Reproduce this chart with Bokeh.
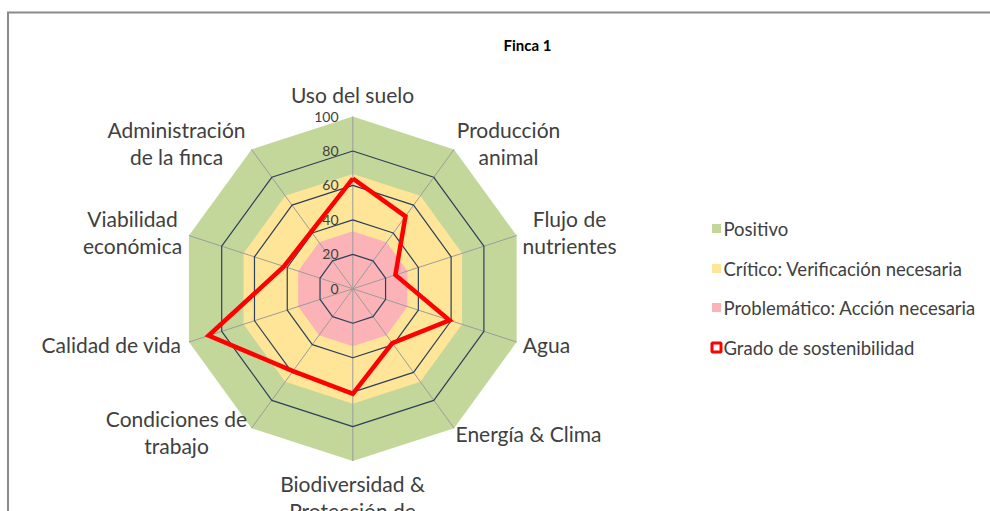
import numpy as np
from bokeh.plotting import figure
from bokeh.models import Range1d
from bokeh.core.properties import value
from bokeh.embed import file_html
from bokeh.resources import INLINE

# ---------------- data ----------------
categories = ["Uso del suelo", "Producción\nanimal", "Flujo de\nnutrientes", "Agua",
              "Energía & Clima", "Biodiversidad &\nProtección de", "Condiciones de\ntrabajo",
              "Calidad de vida", "Viabilidad\neconómica", "Administración\nde la finca"]
grado = [64, 52, 26, 59, 39, 61, 59, 88, 42, 41]
band_names = ["Positivo", "Crítico: Verificación necesaria", "Problemático: Acción necesaria"]
band_levels = [100, 66.67, 33.33]
band_colors = ["#c4d79b", "#ffe597", "#fcb3b8"]
ticks = [0, 20, 40, 60, 80, 100]
series_name = "Grado de sostenibilidad"
title = "Finca 1"

# ---------------- layout ----------------
W, H = 990, 511
S = 1.723                # px per unit
CX, CY = 352.3, 288.3    # px of radar centre
OX, OY = 0, 0


def dx(px):
    return (px - CX) / S


def dy(py):
    return (CY - py) / S


p = figure(width=W, height=H, output_backend="svg", toolbar_location=None,
           x_range=Range1d(dx(OX), dx(OX + W)), y_range=Range1d(dy(OY + H), dy(OY)),
           min_border=0)
p.axis.visible = False
p.grid.visible = False
p.outline_line_color = None
p.background_fill_color = "white"

n = len(categories)
ang = np.pi / 2 - np.arange(n) * 2 * np.pi / n
cosa, sina = np.cos(ang), np.sin(ang)


def ring(r):
    return list(r * cosa) + [r * cosa[0]], list(r * sina) + [r * sina[0]]


# bands
for lvl, col in zip(band_levels, band_colors):
    xs, ys = ring(lvl)
    p.patch(xs[:-1], ys[:-1], fill_color=col, line_color=None)

# spokes
top = max(ticks)
p.segment(x0=[0] * n, y0=[0] * n, x1=list(top * cosa), y1=list(top * sina),
          line_color="#9c9c9c", line_width=1)

# rings
for t in ticks[1:-1]:
    xs, ys = ring(t)
    p.line(xs, ys, line_color="#2b3f5c", line_width=1.2)

# tick labels
p.text(x=[dx(338)] * len(ticks), y=ticks, text=[str(t) for t in ticks],
       text_align="right", text_baseline="middle", text_font=value("Lato"),
       text_font_size="14px", text_color="#404040")

# series
gx = [v * c for v, c in zip(grado, cosa)] + [grado[0] * cosa[0]]
gy = [v * s for v, s in zip(grado, sina)] + [grado[0] * sina[0]]
p.line(gx, gy, line_color="#ff0000", line_width=4.5, line_join="miter")

# category labels (px centres)
lab_px = [(352, 94), (508, 142), (569, 231), (546, 344), (528, 433),
          (352, 496), (176, 431), (111, 344), (132, 231), (176, 142)]
p.text(x=[dx(a) for a, b in lab_px], y=[dy(b) for a, b in lab_px], text=categories,
       text_align="center", text_baseline="middle", text_font=value("Lato"),
       text_font_size="21px", text_color="#404040", text_line_height=1.08)

# title
p.text(x=[dx(527)], y=[dy(44)], text=[title], text_align="center", text_baseline="middle",
       text_font=value("Lato"), text_font_style="bold", text_font_size="15px",
       text_color="#000000")

# legend
leg_y = [228, 268, 307, 347]
p.rect(x=[dx(716)] * 3, y=[dy(v) for v in leg_y[:3]], width=9 / S, height=9 / S,
       fill_color=band_colors, line_color=None)
p.rect(x=[dx(716)], y=[dy(leg_y[3])], width=9 / S, height=9 / S,
       fill_color="white", line_color="#ff0000", line_width=3)
p.text(x=[dx(723)] * 4, y=[dy(v) for v in leg_y], text=band_names + [series_name],
       text_align="left", text_baseline="middle", text_font=value("Lato"),
       text_font_size="18.5px", text_color="#404040")

# chart border (top and left)
p.segment(x0=[dx(7.5), dx(6.5)], y0=[dy(12), dy(12)], x1=[dx(7.5), dx(OX + W)],
          y1=[dy(OY + H), dy(12)], line_color="#8a8a8a", line_width=2)

open("out.html", "w").write(file_html(p, INLINE))
